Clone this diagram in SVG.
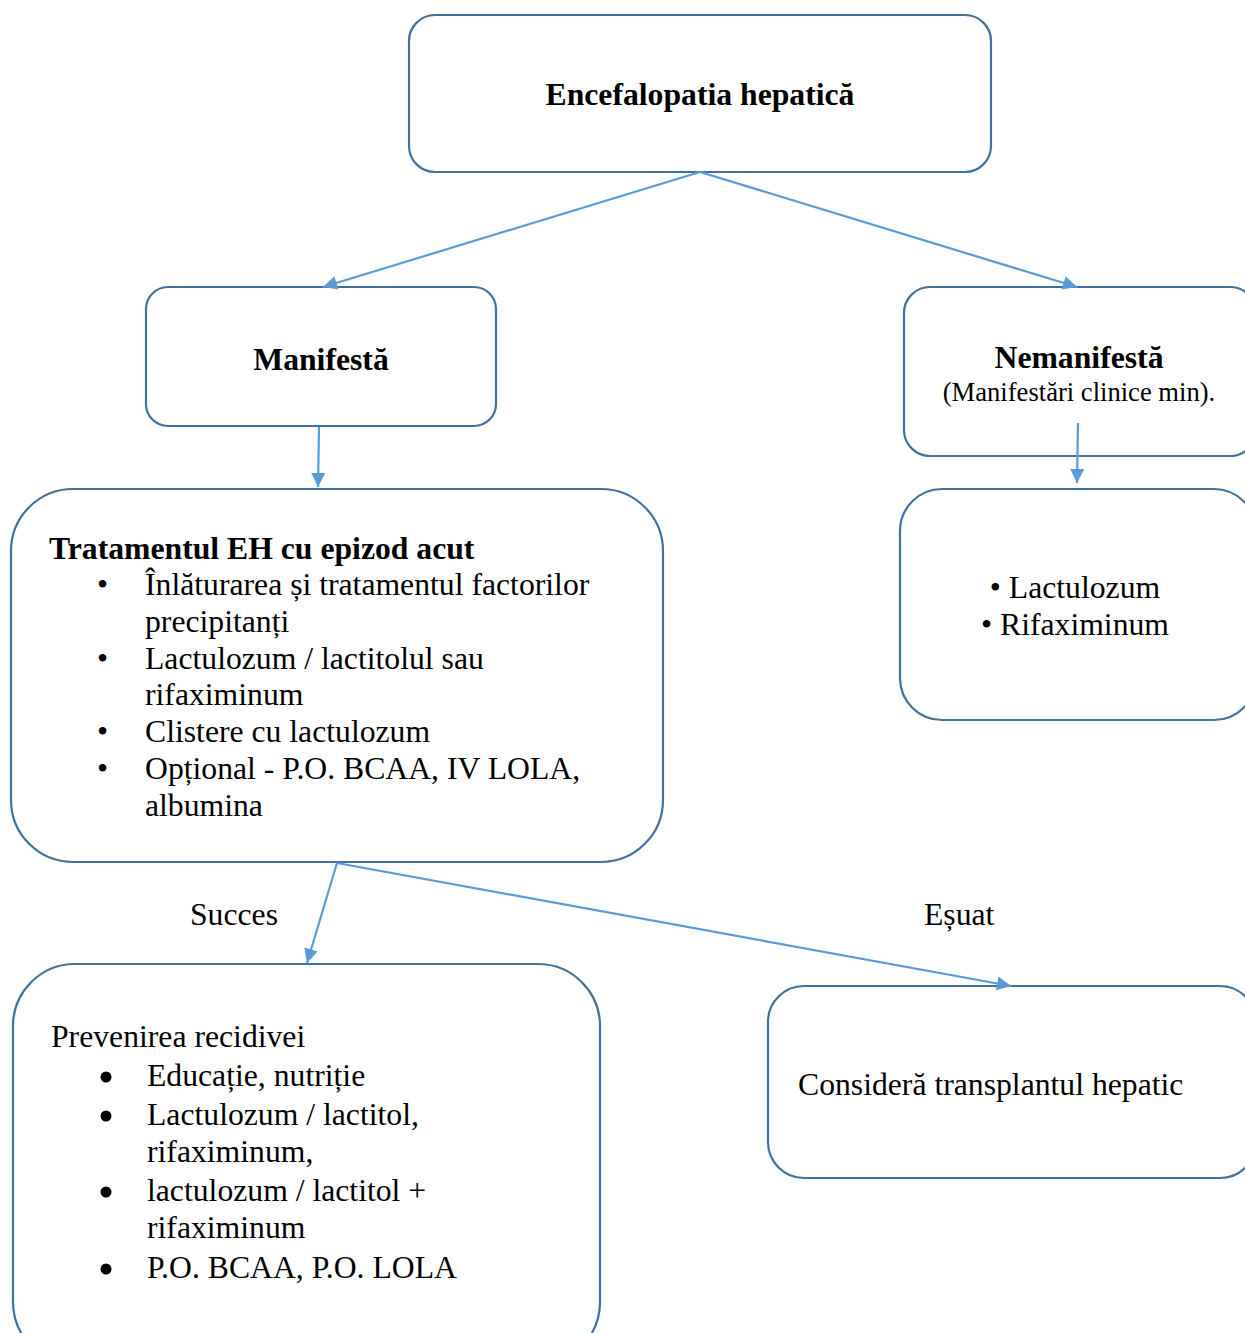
<svg xmlns="http://www.w3.org/2000/svg" width="1245" height="1333" viewBox="0 0 1245 1333">
<style>
.box{fill:#fff;stroke:#41719C;stroke-width:2.2}
.con{stroke:#5B9BD5;stroke-width:2.2;fill:none}
text{font-family:"Liberation Serif","Times New Roman",serif;fill:#000;font-size:31.7px}
.b{font-weight:bold}
</style>
<defs>
<marker id="ah" viewBox="0 0 10 10" refX="10" refY="5" markerWidth="17" markerHeight="14" markerUnits="userSpaceOnUse" orient="auto">
<path d="M0,0 L10,5 L0,10 z" fill="#5B9BD5"/>
</marker>
</defs>
<rect width="1245" height="1333" fill="#fff"/>
<g id="n-top">
<rect class="box" x="409" y="15" width="582" height="157" rx="26"/>
<text class="b" x="700" y="105" text-anchor="middle">Encefalopatia hepatică</text>
</g>
<g id="n-manifesta">
<rect class="box" x="146" y="287" width="350" height="139" rx="22"/>
<text class="b" x="321" y="370" text-anchor="middle">Manifestă</text>
</g>
<g id="n-nemanifesta">
<rect class="box" x="904" y="287" width="352" height="169" rx="26"/>
<text class="b" x="1079" y="368" text-anchor="middle">Nemanifestă</text>
<text x="1079" y="401" text-anchor="middle" style="font-size:26.6px">(Manifestări clinice min).</text>
</g>
<g id="n-nemanifesta-tx">
<rect class="box" x="900" y="489" width="356" height="231" rx="42"/>
<text x="1075" y="598" text-anchor="middle">• Lactulozum</text>
<text x="1075" y="635" text-anchor="middle">• Rifaximinum</text>
</g>
<g id="n-tratament">
<rect class="box" x="11" y="489" width="652" height="373" rx="62"/>
<text class="b" x="49" y="559">Tratamentul EH cu epizod acut</text>
<text x="97" y="595">•</text><text x="145" y="595">Înlăturarea și tratamentul factorilor</text>
<text x="145" y="632">precipitanți</text>
<text x="97" y="669">•</text><text x="145" y="669">Lactulozum / lactitolul sau</text>
<text x="145" y="705">rifaximinum</text>
<text x="97" y="742">•</text><text x="145" y="742">Clistere cu lactulozum</text>
<text x="97" y="779">•</text><text x="145" y="779">Opțional - P.O. BCAA, IV LOLA,</text>
<text x="145" y="816">albumina</text>
</g>
<g id="n-prevenire">
<rect class="box" x="13" y="964" width="587" height="400" rx="62"/>
<text x="51" y="1047">Prevenirea recidivei</text>
<circle cx="106" cy="1077" r="5.5"/><text x="147" y="1086">Educație, nutriție</text>
<circle cx="106" cy="1116" r="5.5"/><text x="147" y="1125">Lactulozum / lactitol,</text>
<text x="147" y="1162">rifaximinum,</text>
<circle cx="106" cy="1192" r="5.5"/><text x="147" y="1201">lactulozum / lactitol +</text>
<text x="147" y="1238">rifaximinum</text>
<circle cx="106" cy="1269" r="5.5"/><text x="147" y="1278">P.O. BCAA, P.O. LOLA</text>
</g>
<g id="n-transplant">
<rect class="box" x="768" y="986" width="488" height="192" rx="36"/>
<text x="798" y="1095">Consideră transplantul hepatic</text>
</g>
<g id="connectors">
<line class="con" x1="700" y1="172" x2="323" y2="287" marker-end="url(#ah)"/>
<line class="con" x1="700" y1="172" x2="1077" y2="287" marker-end="url(#ah)"/>
<line class="con" x1="319" y1="427" x2="318" y2="487" marker-end="url(#ah)"/>
<line class="con" x1="1078" y1="423" x2="1077" y2="483" marker-end="url(#ah)"/>
<line class="con" x1="337" y1="863" x2="307" y2="963" marker-end="url(#ah)"/>
<line class="con" x1="337" y1="863" x2="1011" y2="986" marker-end="url(#ah)"/>
<text x="190" y="925">Succes</text>
<text x="924" y="925">Eșuat</text>
</g>
</svg>
